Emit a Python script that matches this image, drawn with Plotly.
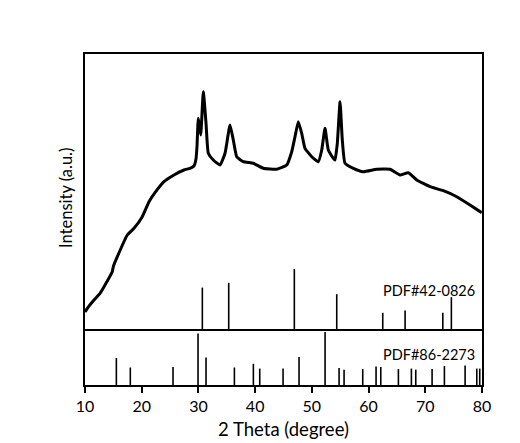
import plotly.graph_objects as go

# Measured XRD pattern (2 theta in degree, intensity in arbitrary units)
two_theta = [10.0, 10.41, 11.59, 12.65, 13.35, 14.81, 14.99, 15.70, 17.46, 18.64, 20.10, 21.29,
             22.47, 23.93, 25.69, 27.46, 28.52, 29.22, 29.57, 29.75, 29.98, 30.40, 30.86, 31.34,
             31.74, 32.62, 33.81, 34.69, 35.57, 36.15, 36.75, 37.91, 39.68, 41.44, 43.80, 45.57,
             46.45, 47.03, 47.61, 48.21, 48.79, 49.98, 51.14, 51.74, 52.32, 52.90, 53.78, 54.08,
             54.49, 54.97, 55.37, 55.85, 57.31, 59.07, 61.44, 63.78, 65.55, 67.01, 68.49, 70.84,
             73.18, 75.54, 77.89, 79.95]
intensity = [17, 20.7, 29, 35.7, 42.3, 57.3, 62.3, 72.3, 94, 100.7, 112.3, 127.3,
             137.3, 147.3, 154, 159, 160.7, 163, 170, 183, 210.7, 194, 237.3, 205.7,
             175.7, 169, 164, 175.7, 204, 189, 172.3, 167.3, 165.7, 160.7, 159.7, 164,
             177.3, 192.3, 207.3, 195.7, 180.7, 172.3, 167.3, 179, 200.7, 179, 170.7, 169,
             185.7, 227.3, 189, 165.7, 160.7, 157.3, 159.7, 159.7, 154, 156.3, 149, 142.3,
             138.3, 132.3, 124, 116.3]

# Reference pattern PDF#42-0826
pdf42_pos = [30.69, 35.34, 46.91, 54.39, 62.5, 66.44, 73.09, 74.6]
pdf42_int = [69, 77, 100, 58, 27, 31, 27, 53]

# Reference pattern PDF#86-2273
pdf86_pos = [15.53, 17.99, 25.52, 29.93, 31.34, 36.34, 39.69, 40.81, 44.92, 47.74, 52.33, 54.8,
             55.68, 58.97, 61.32, 62.15, 65.26, 67.55, 68.32, 71.2, 73.37, 77.02, 79.08, 79.6]
pdf86_int = [51, 33, 34, 97, 52, 33, 40, 31, 31, 53, 100, 32,
             29, 30, 35, 34, 30, 31, 29, 30, 36, 37, 31, 31]

x_ticks = [10, 20, 30, 40, 50, 60, 70, 80]
labels = ["PDF#42-0826", "PDF#86-2273"]


def sticks(pos, vals):
    xs, ys = [], []
    for p, v in zip(pos, vals):
        xs += [p, p, None]
        ys += [0, v, None]
    return xs, ys


fig = go.Figure()
fig.add_trace(go.Scatter(x=two_theta, y=intensity, mode="lines",
                         line=dict(color="black", width=3, shape="spline", smoothing=0.4),
                         xaxis="x2", yaxis="y2", showlegend=False, hoverinfo="skip"))
sx, sy = sticks(pdf42_pos, pdf42_int)
fig.add_trace(go.Scatter(x=sx, y=sy, mode="lines", line=dict(color="black", width=1.6),
                         xaxis="x2", yaxis="y3", showlegend=False, hoverinfo="skip"))
sx, sy = sticks(pdf86_pos, pdf86_int)
fig.add_trace(go.Scatter(x=sx, y=sy, mode="lines", line=dict(color="black", width=1.6),
                         xaxis="x", yaxis="y", showlegend=False, hoverinfo="skip"))

H = 331.0
TOP = 54
low = 56 / H
font = "Lato, 'Open Sans', sans-serif"

fig.update_layout(
    width=520, height=443,
    margin=dict(l=77, r=46, t=46, b=66),
    paper_bgcolor="white", plot_bgcolor="white",
    font=dict(family=font, color="black", size=15),
    xaxis=dict(domain=[0, 1], anchor="y", range=[10, 80], tickvals=x_ticks,
               ticks="outside", ticklen=6, tickwidth=1.5, tickcolor="black",
               showline=True, linecolor="black", linewidth=1.8, mirror=False,
               showgrid=False, zeroline=False, tickfont=dict(size=16),
               title=dict(text="2 Theta (degree)", font=dict(size=18.5), standoff=9)),
    yaxis=dict(domain=[0, low], anchor="x", range=[0, 100 * 56 / 53],
               showline=True, linecolor="black", linewidth=1.8, mirror=True,
               showgrid=False, zeroline=False, showticklabels=False, ticks=""),
    xaxis2=dict(domain=[0, 1], anchor="y2", range=[10, 80], matches="x",
                showline=True, linecolor="black", linewidth=1.8, mirror=True,
                showgrid=False, zeroline=False, showticklabels=False, ticks=""),
    yaxis2=dict(domain=[low, 1], anchor="x2", range=[0, 275],
                showline=True, linecolor="black", linewidth=1.8, mirror=True,
                showgrid=False, zeroline=False, showticklabels=False, ticks=""),
    yaxis3=dict(domain=[low, 1], anchor="x2", overlaying="y2", range=[0, 100 * 275 / 60],
                visible=False),
    annotations=[
        dict(text=labels[0], x=79.1, xref="x2", xanchor="right",
             y=1 - (290.7 - TOP) / H, yref="paper", yanchor="middle",
             showarrow=False, font=dict(size=14.5)),
        dict(text=labels[1], x=79.1, xref="x", xanchor="right",
             y=1 - (354 - TOP) / H, yref="paper", yanchor="middle",
             showarrow=False, font=dict(size=14.5)),
        dict(text="Intensity (a.u.)", textangle=-90, x=0, xref="paper", xanchor="center",
             xshift=-19, y=1 - (198 - TOP) / H, yref="paper", showarrow=False,
             font=dict(size=16.5)),
    ],
)

fig.write_html("out.html")
